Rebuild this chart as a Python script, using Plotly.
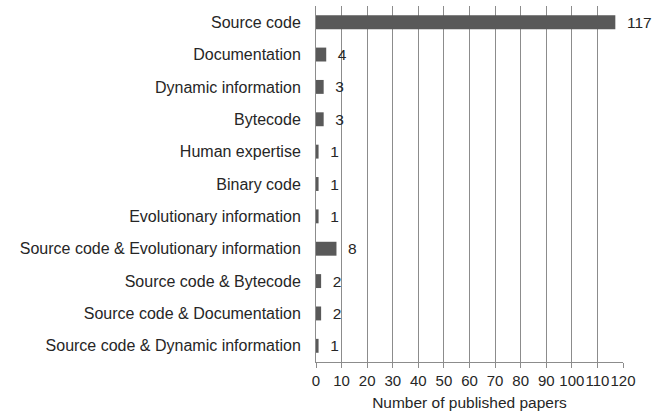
import plotly.graph_objects as go

categories = [
    "Source code",
    "Documentation",
    "Dynamic information",
    "Bytecode",
    "Human expertise",
    "Binary code",
    "Evolutionary information",
    "Source code & Evolutionary information",
    "Source code & Bytecode",
    "Source code & Documentation",
    "Source code & Dynamic information",
]
values = [117, 4, 3, 3, 1, 1, 1, 8, 2, 2, 1]
x_ticks = list(range(0, 121, 10))

FONT = "Liberation Sans, Arial, sans-serif"

fig = go.Figure(go.Bar(
    y=categories,
    x=values,
    orientation="h",
    marker=dict(color="#595959", line=dict(width=0)),
    text=[f"  {v}" for v in values],
    textposition="outside",
    constraintext="none",
    textfont=dict(family=FONT, size=15.5, color="#262626"),
    cliponaxis=False,
))

fig.update_layout(
    width=663, height=417,
    margin=dict(l=316, r=40, t=6, b=55, autoexpand=False),
    paper_bgcolor="white", plot_bgcolor="white",
    bargap=0.57,
    showlegend=False,
    font=dict(family=FONT, size=15.5, color="#262626"),
)
fig.update_xaxes(
    range=[0, 120],
    tickvals=x_ticks,
    ticktext=[str(t) for t in x_ticks],
    tickangle=0,
    showgrid=True, gridcolor="#8c8c8c", gridwidth=1,
    showline=True, linecolor="#8c8c8c", linewidth=1,
    ticks="outside", ticklen=5, tickcolor="#8c8c8c",
    tickfont=dict(size=15),
    title=dict(text="Number of published papers", font=dict(size=15.5), standoff=9),
    zeroline=False,
    automargin=False,
)
fig.update_yaxes(
    autorange="reversed",
    showline=True, linecolor="#8c8c8c", linewidth=1,
    ticks="", ticklabelstandoff=11,
    tickfont=dict(size=16),
    automargin=False,
)

fig.write_html("out.html", config={"displayModeBar": False},
               post_script="document.body.style.margin='0';")
